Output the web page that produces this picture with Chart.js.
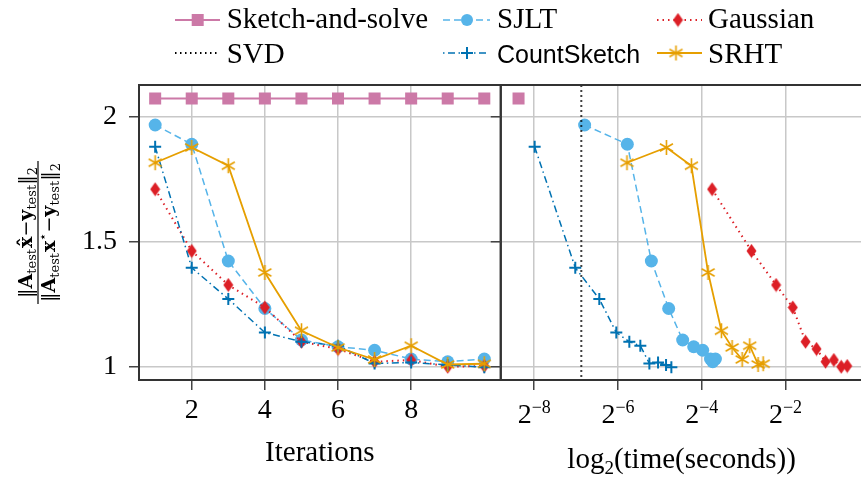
<!DOCTYPE html>
<html>
<head>
<meta charset="utf-8">
<script src="https://cdn.jsdelivr.net/npm/chart.js@4.4.1/dist/chart.umd.min.js"></script>
<style>
html, body { margin: 0; padding: 0; background: #fff; overflow: hidden; }
#wrap { width: 871px; height: 482px; }
</style>
</head>
<body>
<div id="wrap"><canvas id="chart" width="871" height="482"></canvas></div>
<script>
// relative test error (same runs in both panels)
var iterations = [1, 2, 3, 4, 5, 6, 7, 8, 9, 10];
var sketchSolveErr = [2.073, 2.073, 2.073, 2.073, 2.073, 2.073, 2.073, 2.073, 2.073, 2.073];
var sjltErr = [1.967, 1.89, 1.423, 1.233, 1.107, 1.08, 1.066, 1.031, 1.02, 1.031];
var gaussErr = [1.71, 1.463, 1.327, 1.237, 1.1, 1.071, 1.02, 1.027, 1.0, 1.003];
var countErr = [1.88, 1.396, 1.271, 1.137, 1.1, 1.084, 1.013, 1.017, 1.007, 0.998];
var srhtErr = [1.816, 1.877, 1.804, 1.377, 1.144, 1.077, 1.029, 1.084, 1.009, 1.012];

// log2 of the wall time in seconds
var sketchSolveTime = [-8.375];
var sjltTime = [-6.797, -5.777, -5.203, -4.789, -4.455, -4.192, -3.977, -3.79, -3.737, -3.673];
var gaussTime = [-3.752, -2.812, -2.223, -1.825, -1.52, -1.258, -1.043, -0.845, -0.668, -0.525];
var countTime = [-7.99, -7.02, -6.446, -6.04, -5.729, -5.466, -5.25, -5.043, -4.852, -4.725];
var srhtTime = [-5.785, -4.844, -4.247, -3.848, -3.53, -3.274, -3.035, -2.853, -2.653, -2.533];
var svdTime = -6.876;

var iterTicks = [2, 4, 6, 8];
var timeTicks = [-8, -6, -4, -2];
var errTicks = [1, 1.5, 2];

var PINK = '#CC79A7', SKY = '#56B4E9', RED = '#DC1F26', BLUE = '#0072B2', ORANGE = '#E69F00';
var SERIF = '"Liberation Serif", "DejaVu Serif", serif';
var WIDE = '"DejaVu Serif", serif';
var SANS = '"Liberation Sans", "DejaVu Sans", sans-serif';

function pts(xs, ys) {
  return xs.map(function (x, i) { return { x: x, y: ys[i] }; });
}

function makeDiamond(color) {
  var c = document.createElement('canvas');
  c.width = 11; c.height = 15;
  var g = c.getContext('2d');
  g.fillStyle = color;
  g.beginPath();
  g.moveTo(5.5, 0.5); g.lineTo(10.5, 7.5); g.lineTo(5.5, 14.5); g.lineTo(0.5, 7.5);
  g.closePath(); g.fill();
  return c;
}
function makeAsterisk(color) {
  var c = document.createElement('canvas');
  c.width = 17; c.height = 17;
  var g = c.getContext('2d');
  g.strokeStyle = color; g.lineWidth = 1.6;
  for (var k = 0; k < 3; k++) {
    var a = Math.PI / 2 + k * Math.PI / 3;
    g.beginPath();
    g.moveTo(8.5 + 7.5 * Math.cos(a), 8.5 - 7.5 * Math.sin(a));
    g.lineTo(8.5 - 7.5 * Math.cos(a), 8.5 + 7.5 * Math.sin(a));
    g.stroke();
  }
  return c;
}
var diamondImg = makeDiamond(RED);
var starImg = makeAsterisk(ORANGE);

// one style per method, used on both panels
function sketchSolve(data, axis) {
  return { label: 'Sketch-and-solve', data: data, xAxisID: axis, order: 6,
    borderColor: PINK, backgroundColor: PINK, borderWidth: 2,
    pointStyle: 'rect', pointRadius: 8.5, pointBorderWidth: 0 };
}
function sjlt(data, axis) {
  return { label: 'SJLT', data: data, xAxisID: axis, order: 5,
    borderColor: SKY, backgroundColor: SKY, borderWidth: 1.5, borderDash: [7, 4],
    pointStyle: 'circle', pointRadius: 6.5, pointBorderWidth: 0 };
}
function gauss(data, axis) {
  return { label: 'Gaussian', data: data, xAxisID: axis, order: 4,
    borderColor: RED, backgroundColor: RED, borderWidth: 2, borderDash: [1.5, 4],
    pointStyle: diamondImg };
}
function count(data, axis) {
  return { label: 'CountSketch', data: data, xAxisID: axis, order: 2,
    borderColor: BLUE, backgroundColor: BLUE, borderWidth: 1.5, borderDash: [7, 3.5, 1.5, 3.5],
    pointStyle: 'cross', pointRadius: 6, pointBorderWidth: 2 };
}
function srht(data, axis) {
  return { label: 'SRHT', data: data, xAxisID: axis, order: 1,
    borderColor: ORANGE, backgroundColor: ORANGE, borderWidth: 1.8,
    pointStyle: starImg };
}

var datasets = [
  sketchSolve(pts(iterations, sketchSolveErr), 'xIt'),
  sjlt(pts(iterations, sjltErr), 'xIt'),
  gauss(pts(iterations, gaussErr), 'xIt'),
  count(pts(iterations, countErr), 'xIt'),
  srht(pts(iterations, srhtErr), 'xIt'),
  sketchSolve(pts(sketchSolveTime, sketchSolveErr), 'xTime'),
  sjlt(pts(sjltTime, sjltErr), 'xTime'),
  gauss(pts(gaussTime, gaussErr), 'xTime'),
  { label: 'SVD', data: [{ x: svdTime, y: 0.9 }, { x: svdTime, y: 2.2 }], xAxisID: 'xTime', order: 3,
    borderColor: '#000', borderWidth: 2, borderDash: [1.5, 3.5], pointRadius: 0 },
  count(pts(countTime, countErr), 'xTime'),
  srht(pts(srhtTime, srhtErr), 'xTime')
];

var grid = { color: '#c8c8c8', lineWidth: 1.5, tickColor: '#444', tickWidth: 1.5, tickLength: 10 };

function textRun(ctx, parts, x, y) {
  parts.forEach(function (p) {
    ctx.font = p.f;
    ctx.fillText(p.t, x, y + (p.dy || 0));
    x += ctx.measureText(p.t).width + (p.gap || 0);
  });
}
function runWidth(ctx, parts) {
  var w = 0;
  parts.forEach(function (p) { ctx.font = p.f; w += ctx.measureText(p.t).width + (p.gap || 0); });
  return w;
}

function legendItem(ctx, x0, x1, y, color, dash, width, marker, mx, label, font, tx, ty) {
  ctx.save();
  ctx.strokeStyle = color; ctx.lineWidth = width; ctx.setLineDash(dash);
  ctx.beginPath(); ctx.moveTo(x0, y); ctx.lineTo(x1, y); ctx.stroke();
  ctx.setLineDash([]);
  if (marker) marker(ctx, mx, y);
  ctx.fillStyle = '#000'; ctx.font = font; ctx.textBaseline = 'alphabetic'; ctx.textAlign = 'left';
  ctx.fillText(label, tx, ty);
  ctx.restore();
}

var decor = {
  id: 'decor',
  afterDraw: function (chart) {
    var ctx = chart.ctx, area = chart.chartArea;
    var xIt = chart.scales.xIt, xTime = chart.scales.xTime, y = chart.scales.y;
    ctx.save();

    // panel frames
    ctx.strokeStyle = '#333'; ctx.lineWidth = 2;
    [xIt, xTime].forEach(function (s) {
      ctx.strokeRect(s.left, area.top, s.right - s.left, area.bottom - area.top);
    });
    // ticks where the panels meet
    ctx.lineWidth = 1.5; ctx.strokeStyle = '#444';
    errTicks.forEach(function (v) {
      var py = y.getPixelForValue(v);
      ctx.beginPath(); ctx.moveTo(xIt.right - 10, py); ctx.lineTo(xIt.right, py); ctx.stroke();
    });

    ctx.fillStyle = '#000';
    // log2 tick labels
    timeTicks.forEach(function (v) {
      var parts = [{ t: '2', f: '28px ' + SERIF }, { t: '\u2212' + Math.abs(v), f: '18px ' + SERIF, dy: -10 }];
      var w = runWidth(ctx, parts);
      textRun(ctx, parts, xTime.getPixelForValue(v) - w / 2, 423);
    });

    // axis titles
    ctx.textAlign = 'center';
    ctx.font = '29px ' + SERIF;
    ctx.fillText('Iterations', (xIt.left + xIt.right) / 2, 461);
    ctx.textAlign = 'left';
    var tparts = [{ t: 'log', f: '29px ' + SERIF }, { t: '2', f: '19px ' + SERIF, dy: 6 },
      { t: '(time(seconds))', f: '29px ' + SERIF }];
    var tw = runWidth(ctx, tparts);
    textRun(ctx, tparts, (xTime.left + xTime.right) / 2 - tw / 2, 468);

    // y title: rotated fraction
    ctx.save();
    ctx.translate(38, (area.top + area.bottom) / 2);
    ctx.rotate(-Math.PI / 2);
    var big = '19px ' + WIDE, bold = 'bold 19px ' + WIDE, sub = '13px ' + WIDE;
    var num = [{ t: '\u2016', f: big }, { t: 'A', f: bold }, { t: 'test', f: sub, dy: 4, gap: 1 },
      { t: 'x\u0302', f: bold }, { t: '\u2212', f: big }, { t: 'y', f: bold },
      { t: 'test', f: sub, dy: 4 }, { t: '\u2016', f: big }, { t: '2', f: sub, dy: 5 }];
    var den = [{ t: '\u2016', f: big }, { t: 'A', f: bold }, { t: 'test', f: sub, dy: 4, gap: 1 },
      { t: 'x', f: bold }, { t: '\u22c6', f: sub, dy: -8 }, { t: '\u2212', f: big }, { t: 'y', f: bold },
      { t: 'test', f: sub, dy: 4 }, { t: '\u2016', f: big }, { t: '2', f: sub, dy: 5 }];
    var nw = runWidth(ctx, num), dw = runWidth(ctx, den), bw = Math.max(nw, dw) + 4;
    textRun(ctx, num, -nw / 2, -6);
    textRun(ctx, den, -dw / 2, 17);
    ctx.strokeStyle = '#000'; ctx.lineWidth = 1.2;
    ctx.beginPath(); ctx.moveTo(-bw / 2, 0); ctx.lineTo(bw / 2, 0); ctx.stroke();
    ctx.restore();

    // legend
    var lf = '29px ' + SERIF;
    legendItem(ctx, 175, 220, 20, PINK, [], 2, function (c, x, yy) {
      c.fillStyle = PINK; c.fillRect(x - 6, yy - 6, 12, 12);
    }, 197.7, 'Sketch-and-solve', lf, 226.7, 28);
    legendItem(ctx, 443, 490, 20, SKY, [7, 4], 1.5, function (c, x, yy) {
      c.fillStyle = SKY; c.beginPath(); c.arc(x, yy, 6, 0, Math.PI * 2); c.fill();
    }, 467, 'SJLT', lf, 497, 28);
    legendItem(ctx, 657, 702, 20, RED, [1.5, 4], 2, function (c, x, yy) {
      c.drawImage(diamondImg, x - 5.5, yy - 7.5);
    }, 678, 'Gaussian', lf, 708, 28);
    legendItem(ctx, 175, 218, 53, '#000', [1.5, 3.5], 2, null, 0, 'SVD', lf, 226.7, 63);
    legendItem(ctx, 443, 488, 53, BLUE, [1.5, 3.5, 7, 3.5], 1.5, function (c, x, yy) {
      c.strokeStyle = BLUE; c.lineWidth = 2;
      c.beginPath(); c.moveTo(x - 6, yy); c.lineTo(x + 6, yy); c.moveTo(x, yy - 6); c.lineTo(x, yy + 6); c.stroke();
    }, 467, 'CountSketch', '25px ' + SANS, 497, 63);
    legendItem(ctx, 657, 702, 53, ORANGE, [], 1.8, function (c, x, yy) {
      c.drawImage(starImg, x - 8.5, yy - 8.5);
    }, 676, 'SRHT', lf, 708, 63);

    ctx.restore();
  }
};

new Chart(document.getElementById('chart'), {
  type: 'line',
  data: { datasets: datasets },
  options: {
    responsive: false,
    animation: false,
    layout: { padding: { top: 85, left: 0, right: 1, bottom: 0 } },
    plugins: { legend: { display: false }, tooltip: { enabled: false } },
    elements: { line: { tension: 0 } },
    scales: {
      y: {
        type: 'linear', position: 'left', min: 0.947, max: 2.127,
        afterBuildTicks: function (s) { s.ticks = errTicks.map(function (v) { return { value: v }; }); },
        afterFit: function (s) { s.width = 139; },
        grid: grid,
        border: { display: false },
        ticks: { font: { family: SERIF, size: 28 }, color: '#000', padding: 12,
          callback: function (v) { return String(v); } }
      },
      xIt: {
        type: 'linear', position: 'bottom', stack: 'panels', min: 0.558, max: 10.45,
        afterBuildTicks: function (s) { s.ticks = iterTicks.map(function (v) { return { value: v }; }); },
        afterFit: function (s) { s.height = 102; },
        grid: grid,
        border: { display: false },
        ticks: { font: { family: SERIF, size: 28 }, color: '#000', padding: 4, maxRotation: 0,
          callback: function (v) { return String(v); } }
      },
      xTime: {
        type: 'linear', position: 'bottom', stack: 'panels', min: -8.8, max: -0.16,
        afterBuildTicks: function (s) { s.ticks = timeTicks.map(function (v) { return { value: v }; }); },
        afterFit: function (s) { s.height = 102; },
        grid: grid,
        border: { display: false },
        ticks: { display: false }
      }
    }
  },
  plugins: [decor]
});
</script>
</body>
</html>
